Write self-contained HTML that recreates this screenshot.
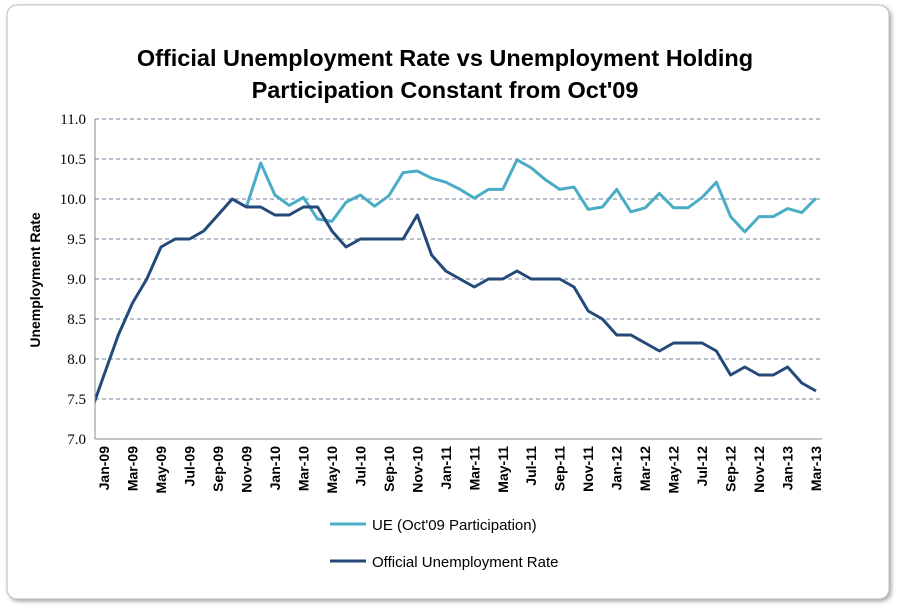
<!DOCTYPE html>
<html><head><meta charset="utf-8"><style>
body{margin:0;background:#fff;}
svg{display:block;font-family:"Liberation Sans",sans-serif;}
</style></head><body>
<svg width="903" height="612">
<defs>
<filter id="sh" x="-5%" y="-5%" width="110%" height="110%"><feDropShadow dx="2" dy="2" stdDeviation="2" flood-color="#000" flood-opacity="0.35"/></filter>
<clipPath id="pc"><rect x="95" y="100" width="740" height="340"/></clipPath>
</defs>
<rect x="7" y="5" width="882" height="594" rx="10" fill="#fff" stroke="#bbb" filter="url(#sh)"/>
<text x="445" y="66" text-anchor="middle" font-size="23.5" font-weight="bold" fill="#000">Official Unemployment Rate vs Unemployment Holding</text>
<text x="445" y="98" text-anchor="middle" font-size="23.5" font-weight="bold" fill="#000">Participation Constant from Oct'09</text>
<text transform="translate(40,280) rotate(-90)" text-anchor="middle" font-size="14" font-weight="bold">Unemployment Rate</text>
<g id="grid"></g>
<g id="ylabels"></g>
<g id="xlabels"></g>
<g id="series" clip-path="url(#pc)"></g>
<line x1="95" y1="119" x2="95" y2="439" stroke="#888"/>
<line x1="95" y1="439" x2="822" y2="439" stroke="#888"/>
<g>
<line x1="330" y1="524" x2="366" y2="524" stroke="#4BACC6" stroke-width="3"/>
<text x="372" y="530" font-size="15">UE (Oct'09 Participation)</text>
<line x1="330" y1="561" x2="366" y2="561" stroke="#254A7A" stroke-width="3"/>
<text x="372" y="567" font-size="15">Official Unemployment Rate</text>
</g>
</svg>
<script>
const months=["Dec-08","Jan-09","Feb-09","Mar-09","Apr-09","May-09","Jun-09","Jul-09","Aug-09","Sep-09","Oct-09","Nov-09","Dec-09","Jan-10","Feb-10","Mar-10","Apr-10","May-10","Jun-10","Jul-10","Aug-10","Sep-10","Oct-10","Nov-10","Dec-10","Jan-11","Feb-11","Mar-11","Apr-11","May-11","Jun-11","Jul-11","Aug-11","Sep-11","Oct-11","Nov-11","Dec-11","Jan-12","Feb-12","Mar-12","Apr-12","May-12","Jun-12","Jul-12","Aug-12","Sep-12","Oct-12","Nov-12","Dec-12","Jan-13","Feb-13","Mar-13"];
const official=[7.3,7.8,8.3,8.7,9.0,9.4,9.5,9.5,9.6,9.8,10.0,9.9,9.9,9.8,9.8,9.9,9.9,9.6,9.4,9.5,9.5,9.5,9.5,9.8,9.3,9.1,9.0,8.9,9.0,9.0,9.1,9.0,9.0,9.0,8.9,8.6,8.5,8.3,8.3,8.2,8.1,8.2,8.2,8.2,8.1,7.8,7.9,7.8,7.8,7.9,7.7,7.6];
const ue=[null,null,null,null,null,null,null,null,null,null,10.0,9.9,10.45,10.05,9.92,10.02,9.75,9.72,9.96,10.05,9.91,10.04,10.33,10.35,10.26,10.21,10.12,10.01,10.12,10.12,10.49,10.39,10.24,10.12,10.15,9.87,9.9,10.12,9.84,9.89,10.07,9.89,9.89,10.02,10.21,9.78,9.59,9.78,9.78,9.88,9.83,10.01];
const yTicks=["7.0","7.5","8.0","8.5","9.0","9.5","10.0","10.5","11.0"];
const NS="http://www.w3.org/2000/svg";
const x=i=>89.8+i*14.24;
const y=v=>439-(v-7)*80;
function mk(t,a,p){const e=document.createElementNS(NS,t);for(const k in a)e.setAttribute(k,a[k]);p.appendChild(e);return e;}
const grid=document.getElementById('grid'),yl=document.getElementById('ylabels'),xl=document.getElementById('xlabels'),ser=document.getElementById('series');
yTicks.forEach(t=>{const v=parseFloat(t);
 if(v>7){const g=mk('line',{x1:95,x2:822,y1:y(v),y2:y(v),stroke:'#6f8197','stroke-dasharray':'4,3'},grid);
 
 }
 const tx=mk('text',{x:86,y:y(v)+5,'text-anchor':'end','font-size':15,'font-family':'"Liberation Serif",serif'},yl);tx.textContent=t;
 
 
});
months.forEach((m,i)=>{if(i%2===1){const tx=mk('text',{transform:`translate(${x(i)+5},446) rotate(-90)`,'text-anchor':'end','font-size':14,'font-weight':'bold'},xl);tx.textContent=m;
 
 }});
function line(vals,col,name){let d='';vals.forEach((v,i)=>{if(v==null)return;d+=(d?'L':'M')+x(i).toFixed(1)+','+y(v).toFixed(1);});
 const p=mk('path',{d:d,fill:'none',stroke:col,'stroke-width':3,'stroke-linejoin':'round'},ser);
 
 }
line(ue,'#4BACC6','ue-line');
line(official,'#254A7A','official-line');
</script>
</body></html>
